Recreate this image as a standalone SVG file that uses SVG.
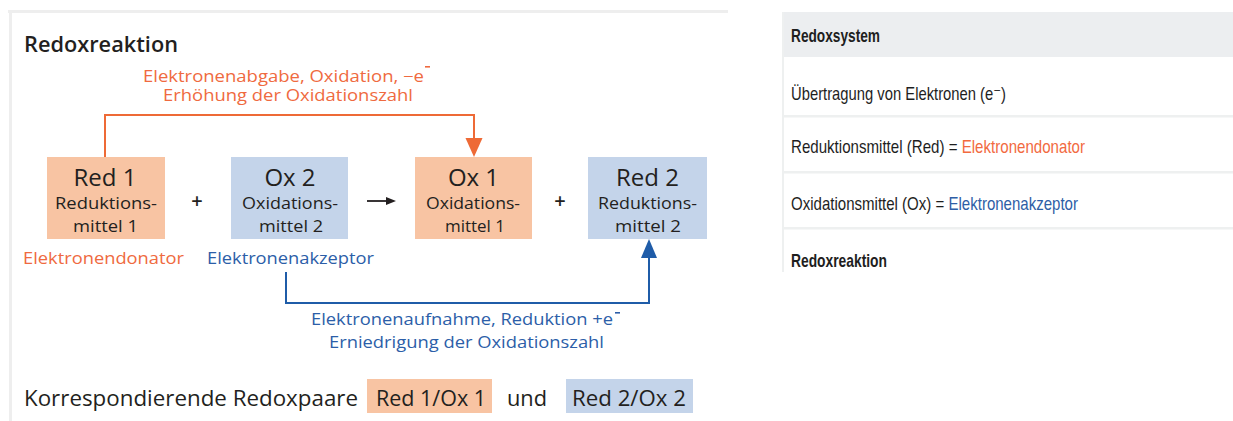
<svg xmlns="http://www.w3.org/2000/svg" width="1233" height="421" viewBox="0 0 1233 421">
<style>
.lbl{font-family:"Open Sans","Liberation Sans",sans-serif;fill:#231f20;font-weight:500}
.big{font-size:24px}
.sub{font-size:17px}
.cap{font-size:16px}
.org{fill:#ef6a40}
.blu{fill:#2c5ea8}
.peach{fill:#f8c4a3}
.bluebox{fill:#c4d4ea}
.tbl{font-family:"Liberation Sans","DejaVu Sans",sans-serif;font-size:19px;fill:#1e1e1e}
.sep{fill:#eef0f0}
.olin{stroke:#ee6a36;stroke-width:2;fill:none}
.blin{stroke:#1f5ca8;stroke-width:2;fill:none}
</style>
<defs>
<clipPath id="tclip"><rect x="760" y="0" width="473" height="272"/></clipPath>
</defs>
<rect width="1233" height="421" fill="#ffffff"/>

<!-- left panel frame -->
<g id="frame">
<rect x="8" y="10" width="720" height="3" fill="#eeeeee"/>
<rect x="9" y="10" width="3" height="411" fill="#eeeeee"/>
</g>

<text id="title" class="lbl" x="24" y="52" font-size="22" style="font-weight:600" textLength="154" lengthAdjust="spacingAndGlyphs">Redoxreaktion</text>

<!-- connectors -->
<g id="connectors">
<polyline class="olin" points="105,157 105,115 474,115 474,140"/>
<polygon points="465.5,138 482.5,138 474,157" fill="#ee6a36"/>
<polyline class="blin" points="286,272 286,303 649,303 649,256"/>
<polygon points="641,258 657,258 649,239" fill="#1f5ca8"/>
<line x1="367" y1="201" x2="392" y2="201" stroke="#231f20" stroke-width="1.8"/>
<polygon points="386,197 396,201 386,205" fill="#231f20"/>
</g>

<g id="label-oxidation">
<text class="lbl cap org" x="143" y="82" textLength="281" lengthAdjust="spacingAndGlyphs">Elektronenabgabe, Oxidation, −e</text>
<rect x="425" y="66" width="5" height="1.6" fill="#ef6a40"/>
<text class="lbl cap org" x="288" y="101" text-anchor="middle" textLength="250" lengthAdjust="spacingAndGlyphs">Erhöhung der Oxidationszahl</text>
</g>

<g id="label-reduction">
<text class="lbl cap blu" x="311" y="325" textLength="302" lengthAdjust="spacingAndGlyphs">Elektronenaufnahme, Reduktion +e</text>
<rect x="615" y="312" width="5" height="1.6" fill="#2c5ea8"/>
<text class="lbl cap blu" x="466.5" y="348" text-anchor="middle" textLength="275" lengthAdjust="spacingAndGlyphs">Erniedrigung der Oxidationszahl</text>
</g>

<g id="node-red1">
<rect class="peach" x="47" y="157" width="118" height="82"/>
<text class="lbl big" x="105" y="186" text-anchor="middle">Red 1</text>
<text class="lbl sub" x="106" y="209" text-anchor="middle" textLength="102" lengthAdjust="spacingAndGlyphs">Reduktions-</text>
<text class="lbl sub" x="105.5" y="232" text-anchor="middle" textLength="65" lengthAdjust="spacingAndGlyphs">mittel 1</text>
<text class="lbl sub org" x="23" y="264" textLength="161" lengthAdjust="spacingAndGlyphs">Elektronendonator</text>
</g>

<text id="plus1" class="lbl" x="197" y="208" font-size="20" text-anchor="middle" style="font-weight:600">+</text>

<g id="node-ox2">
<rect class="bluebox" x="231" y="157" width="117" height="82"/>
<text class="lbl big" x="290" y="186" text-anchor="middle">Ox 2</text>
<text class="lbl sub" x="290" y="209" text-anchor="middle" textLength="96" lengthAdjust="spacingAndGlyphs">Oxidations-</text>
<text class="lbl sub" x="291" y="232" text-anchor="middle" textLength="64" lengthAdjust="spacingAndGlyphs">mittel 2</text>
<text class="lbl sub blu" x="207" y="264" textLength="167" lengthAdjust="spacingAndGlyphs">Elektronenakzeptor</text>
</g>

<g id="node-ox1">
<rect class="peach" x="415" y="157" width="117" height="82"/>
<text class="lbl big" x="473.5" y="186" text-anchor="middle">Ox 1</text>
<text class="lbl sub" x="473" y="209" text-anchor="middle" textLength="94" lengthAdjust="spacingAndGlyphs">Oxidations-</text>
<text class="lbl sub" x="475" y="232" text-anchor="middle" textLength="60" lengthAdjust="spacingAndGlyphs">mittel 1</text>
</g>

<text id="plus2" class="lbl" x="560" y="208" font-size="20" text-anchor="middle" style="font-weight:600">+</text>

<g id="node-red2">
<rect class="bluebox" x="588" y="157" width="119" height="82"/>
<text class="lbl big" x="647.5" y="186" text-anchor="middle">Red 2</text>
<text class="lbl sub" x="647.5" y="209" text-anchor="middle" textLength="99" lengthAdjust="spacingAndGlyphs">Reduktions-</text>
<text class="lbl sub" x="648" y="232" text-anchor="middle" textLength="66" lengthAdjust="spacingAndGlyphs">mittel 2</text>
</g>

<g id="pairs">
<text class="lbl" x="24" y="406" font-size="22" textLength="334" lengthAdjust="spacingAndGlyphs">Korrespondierende Redoxpaare</text>
<rect class="peach" x="367" y="379" width="125" height="34"/>
<text class="lbl" x="376" y="406" font-size="22" textLength="110" lengthAdjust="spacingAndGlyphs">Red 1/Ox 1</text>
<text class="lbl" x="507" y="406" font-size="22" textLength="40" lengthAdjust="spacingAndGlyphs">und</text>
<rect class="bluebox" x="566" y="379" width="127" height="34"/>
<text class="lbl" x="572" y="406" font-size="22" textLength="114" lengthAdjust="spacingAndGlyphs">Red 2/Ox 2</text>
</g>

<!-- right table -->
<g id="table" clip-path="url(#tclip)">
<rect x="783" y="12" width="450" height="45" fill="#eceef0"/>
<rect x="782" y="12" width="2" height="260" fill="#eef0f0"/>
<rect class="sep" x="783" y="115" width="450" height="2.5"/>
<rect class="sep" x="783" y="171" width="450" height="2.5"/>
<rect class="sep" x="783" y="227" width="450" height="2.5"/>
<text class="tbl" x="791" y="42" font-weight="bold" textLength="89" lengthAdjust="spacingAndGlyphs">Redoxsystem</text>
<text class="tbl" x="791" y="100" textLength="215" lengthAdjust="spacingAndGlyphs">Übertragung von Elektronen (e⁻)</text>
<text class="tbl" x="791" y="153" textLength="294" lengthAdjust="spacingAndGlyphs">Reduktionsmittel (Red) = <tspan style="fill:#f26a3f">Elektronendonator</tspan></text>
<text class="tbl" x="791" y="210" textLength="287" lengthAdjust="spacingAndGlyphs">Oxidationsmittel (Ox) = <tspan style="fill:#2e5ea6">Elektronenakzeptor</tspan></text>
<text class="tbl" x="791" y="267" font-weight="bold" textLength="96" lengthAdjust="spacingAndGlyphs">Redoxreaktion</text>
</g>
</svg>
